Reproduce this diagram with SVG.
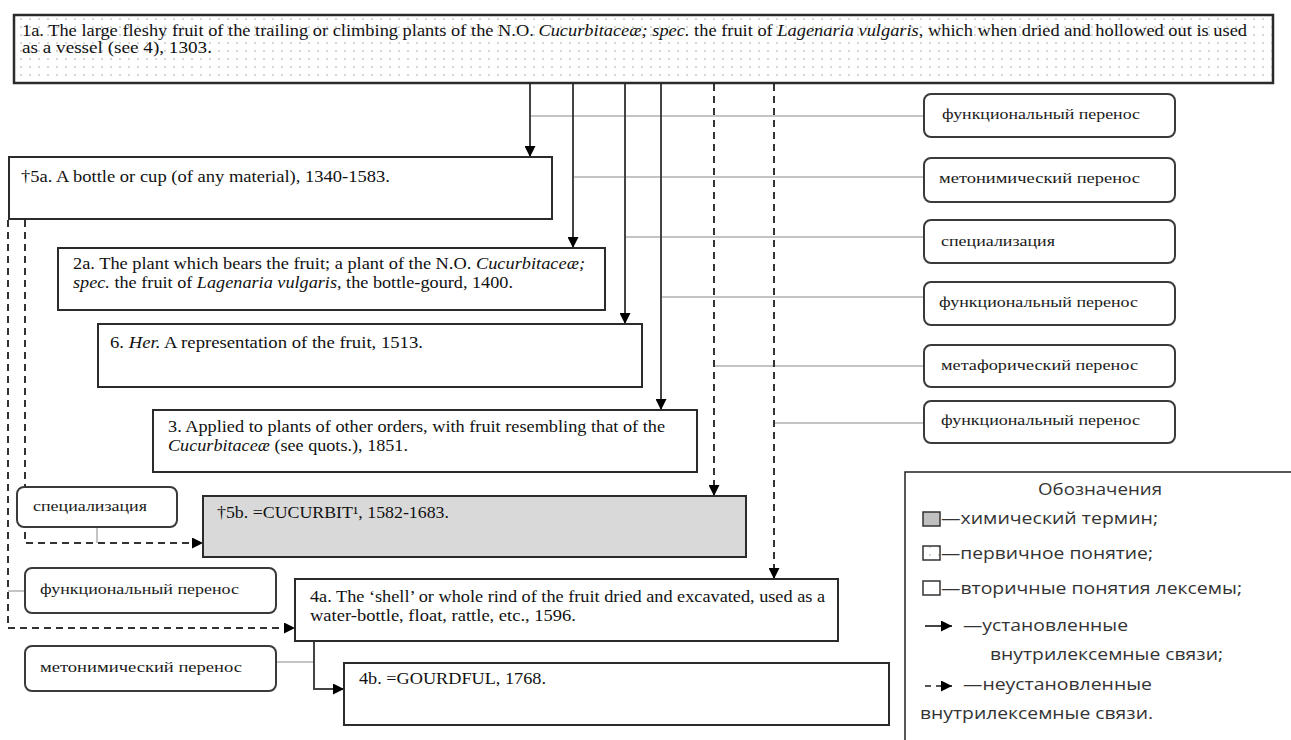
<svg xmlns="http://www.w3.org/2000/svg" width="1291" height="740" viewBox="0 0 1291 740">
<style>
.bg{fill:#fff}
.node{fill:#fff;stroke:#2b2b2b;stroke-width:2}
.chem{fill:#d9d9d9;stroke:#2b2b2b;stroke-width:2}
.prim{fill:url(#dots);stroke:#2b2b2b;stroke-width:2.5}
.lab{fill:#fff;stroke:#3a3a3a;stroke-width:2}
.t{font-family:"Liberation Serif","Times New Roman",serif;font-size:16px;fill:#111}
.tl{font-family:"Liberation Serif","Times New Roman",serif;font-size:15.5px;fill:#1a1a1a}
.i{font-style:italic}
.solid{fill:none;stroke:#444;stroke-width:2}
.dash{fill:none;stroke:#333;stroke-width:2;stroke-dasharray:7 5}
.gray{fill:none;stroke:#c4c4c4;stroke-width:2}
.lg{font-family:"Open Sans","Noto Sans",sans-serif;font-size:17px;fill:#333}
</style>
<defs>
<pattern id="dots" width="9" height="8" patternUnits="userSpaceOnUse">
<rect width="9" height="8" fill="#fff"/>
<circle cx="3" cy="3" r="0.75" fill="#9a9a9a"/>
</pattern>
<marker id="ah" markerWidth="11" markerHeight="11" refX="11" refY="5.5" orient="auto" markerUnits="userSpaceOnUse">
<path d="M0,0 L11,5.5 L0,11 z" fill="#000"/>
</marker>
</defs>
<rect class="bg" x="0" y="0" width="1291" height="740"/>

<g id="connectors">
<path class="gray" d="M530,116 H924"/>
<path class="gray" d="M573,177 H924"/>
<path class="gray" d="M625,237 H924"/>
<path class="gray" d="M661,297 H924"/>
<path class="gray" d="M714,366 H924"/>
<path class="gray" d="M774,423 H924"/>
<path class="gray" d="M97,527 V543"/>
<path class="gray" d="M8,591 H25"/>
<path class="gray" d="M276,662 H314"/>
<path class="solid" d="M530,84 V157" marker-end="url(#ah)"/>
<path class="solid" d="M573,84 V248" marker-end="url(#ah)"/>
<path class="solid" d="M625,84 V324" marker-end="url(#ah)"/>
<path class="solid" d="M661,84 V410" marker-end="url(#ah)"/>
<path class="dash" d="M714,84 V496" marker-end="url(#ah)"/>
<path class="dash" d="M774,84 V579" marker-end="url(#ah)"/>
<path class="dash" d="M25,220 V543 H203" marker-end="url(#ah)"/>
<path class="dash" d="M8,220 V628 H295" marker-end="url(#ah)"/>
<path class="solid" d="M314,642 V689 H344" marker-end="url(#ah)"/>
</g>

<g id="n1a">
<rect class="prim" x="14" y="15" width="1259" height="68"/>
<text class="t" x="22" y="36" textLength="1225" lengthAdjust="spacingAndGlyphs">1a. The large fleshy fruit of the trailing or climbing plants of the N.O. <tspan class="i">Cucurbitaceæ; spec.</tspan> the fruit of <tspan class="i">Lagenaria vulgaris</tspan>, which when dried and hollowed out is used</text>
<text class="t" x="22" y="53" textLength="190" lengthAdjust="spacingAndGlyphs">as a vessel (see 4), 1303.</text>
</g>

<g id="n5a">
<rect class="node" x="9" y="157" width="543" height="62"/>
<text class="t" x="21" y="182" textLength="369" lengthAdjust="spacingAndGlyphs">†5a. A bottle or cup (of any material), 1340-1583.</text>
</g>

<g id="n2a">
<rect class="node" x="58" y="248" width="547" height="62"/>
<text class="t" x="73" y="269" textLength="512" lengthAdjust="spacingAndGlyphs">2a. The plant which bears the fruit; a plant of the N.O. <tspan class="i">Cucurbitaceæ;</tspan></text>
<text class="t" x="73" y="288" textLength="440" lengthAdjust="spacingAndGlyphs"><tspan class="i">spec.</tspan> the fruit of <tspan class="i">Lagenaria vulgaris</tspan>, the bottle-gourd, 1400.</text>
</g>

<g id="n6">
<rect class="node" x="98" y="324" width="544" height="63"/>
<text class="t" x="110" y="348" textLength="313" lengthAdjust="spacingAndGlyphs">6. <tspan class="i">Her.</tspan> A representation of the fruit, 1513.</text>
</g>

<g id="n3">
<rect class="node" x="153" y="410" width="544" height="62"/>
<text class="t" x="168" y="432" textLength="497" lengthAdjust="spacingAndGlyphs">3. Applied to plants of other orders, with fruit resembling that of the</text>
<text class="t" x="168" y="451" textLength="240" lengthAdjust="spacingAndGlyphs"><tspan class="i">Cucurbitaceæ</tspan> (see quots.), 1851.</text>
</g>

<g id="n5b">
<rect class="chem" x="203" y="496" width="543" height="61"/>
<text class="t" x="217" y="518" textLength="232" lengthAdjust="spacingAndGlyphs">†5b. =CUCURBIT¹, 1582-1683.</text>
</g>

<g id="n4a">
<rect class="node" x="295" y="579" width="543" height="62"/>
<text class="t" x="310" y="602" textLength="515" lengthAdjust="spacingAndGlyphs">4a. The ‘shell’ or whole rind of the fruit dried and excavated, used as a</text>
<text class="t" x="310" y="621" textLength="266" lengthAdjust="spacingAndGlyphs">water-bottle, float, rattle, etc., 1596.</text>
</g>

<g id="n4b">
<rect class="node" x="344" y="663" width="545" height="62"/>
<text class="t" x="359" y="684" textLength="187" lengthAdjust="spacingAndGlyphs">4b. =GOURDFUL, 1768.</text>
</g>

<g id="r1">
<rect class="lab" x="924" y="94" width="251" height="43" rx="7"/>
<text class="tl" x="942" y="119" textLength="198" lengthAdjust="spacingAndGlyphs">функциональный перенос</text>
</g>
<g id="r2">
<rect class="lab" x="924" y="158" width="251" height="44" rx="7"/>
<text class="tl" x="939" y="183" textLength="201" lengthAdjust="spacingAndGlyphs">метонимический  перенос</text>
</g>
<g id="r3">
<rect class="lab" x="924" y="220" width="251" height="43" rx="7"/>
<text class="tl" x="941" y="246" textLength="114" lengthAdjust="spacingAndGlyphs">специализация</text>
</g>
<g id="r4">
<rect class="lab" x="924" y="282" width="251" height="43" rx="7"/>
<text class="tl" x="939" y="307" textLength="199" lengthAdjust="spacingAndGlyphs">функциональный перенос</text>
</g>
<g id="r5">
<rect class="lab" x="924" y="345" width="251" height="42" rx="7"/>
<text class="tl" x="941" y="370" textLength="197" lengthAdjust="spacingAndGlyphs">метафорический перенос</text>
</g>
<g id="r6">
<rect class="lab" x="924" y="401" width="251" height="42" rx="7"/>
<text class="tl" x="941" y="425" textLength="199" lengthAdjust="spacingAndGlyphs">функциональный перенос</text>
</g>

<g id="l1">
<rect class="lab" x="17" y="487" width="160" height="40" rx="7"/>
<text class="tl" x="33" y="511" textLength="114" lengthAdjust="spacingAndGlyphs">специализация</text>
</g>
<g id="l2">
<rect class="lab" x="25" y="568" width="251" height="45" rx="7"/>
<text class="tl" x="40" y="594" textLength="199" lengthAdjust="spacingAndGlyphs">функциональный перенос</text>
</g>
<g id="l3">
<rect class="lab" x="25" y="646" width="251" height="45" rx="7"/>
<text class="tl" x="40" y="672" textLength="202" lengthAdjust="spacingAndGlyphs">метонимический  перенос</text>
</g>

<g id="legend">
<path d="M905,740 V472 H1291" fill="none" stroke="#222" stroke-width="1.5"/>
<text class="lg" x="1038" y="495" textLength="124" lengthAdjust="spacingAndGlyphs">Обозначения</text>
<rect x="923" y="512" width="17" height="14" fill="#c0c0c0" stroke="#333" stroke-width="1.5"/>
<text class="lg" x="941" y="524" textLength="217" lengthAdjust="spacingAndGlyphs">—химический термин;</text>
<rect x="923" y="546" width="17" height="14" fill="url(#dots)" stroke="#333" stroke-width="1.5"/>
<text class="lg" x="941" y="559" textLength="212" lengthAdjust="spacingAndGlyphs">—первичное понятие;</text>
<rect x="923" y="581" width="17" height="14" fill="#fff" stroke="#333" stroke-width="1.5"/>
<text class="lg" x="941" y="594" textLength="301" lengthAdjust="spacingAndGlyphs">—вторичные понятия лексемы;</text>
<path class="solid" d="M925,626 H952" stroke="#000" marker-end="url(#ah)"/>
<text class="lg" x="963" y="631" textLength="165" lengthAdjust="spacingAndGlyphs">—установленные</text>
<text class="lg" x="990" y="660" textLength="233" lengthAdjust="spacingAndGlyphs">внутрилексемные связи;</text>
<path d="M925,686 H952" fill="none" stroke="#555" stroke-width="2" stroke-dasharray="6 5" marker-end="url(#ah)"/>
<text class="lg" x="963" y="690" textLength="189" lengthAdjust="spacingAndGlyphs">—неустановленные</text>
<text class="lg" x="920" y="719" textLength="233" lengthAdjust="spacingAndGlyphs">внутрилексемные связи.</text>
</g>
</svg>
